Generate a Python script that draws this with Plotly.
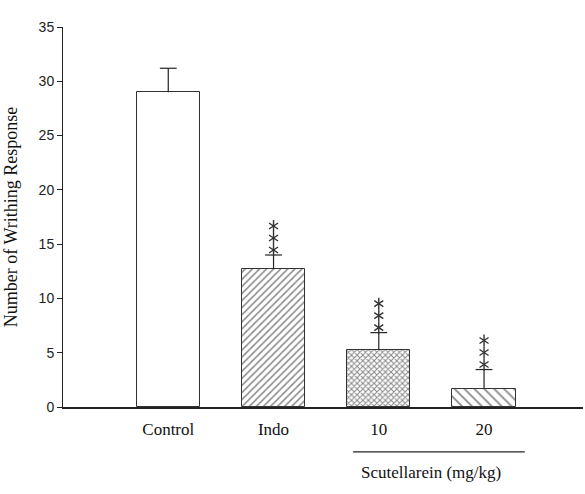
import plotly.graph_objects as go

groups = ["Control", "Indo", "10", "20"]
means = [29.0, 12.7, 5.25, 1.7]
sems = [2.2, 1.3, 1.6, 1.75]
n_stars = [0, 3, 3, 3]
patterns = ["", "/", "x", "\\"]
y_ticks = [0, 5, 10, 15, 20, 25, 30, 35]

xs = list(range(len(groups)))
px_per_unit = (494 - 27 - 87) / 35.0

fig = go.Figure()
fig.add_trace(go.Bar(
    x=xs, y=means, width=0.6,
    marker=dict(color="white", line=dict(color="#333", width=1),
                pattern=dict(shape=patterns, fgcolor="#111", size=[6, 5, 4, 7],
                             solidity=[0.25, 0.3, 0.45, 0.25])),
    showlegend=False,
))
# error bars (upper only)
ex, ey = [], []
for i, (m, s) in enumerate(zip(means, sems)):
    ex += [i, i, None]
    ey += [m, m + s, None]
fig.add_trace(go.Scatter(x=ex, y=ey, mode="lines", line=dict(color="#222", width=1.2),
                         showlegend=False, hoverinfo="skip"))
fig.add_trace(go.Scatter(x=xs, y=[m + s for m, s in zip(means, sems)], mode="markers",
                         marker=dict(symbol="line-ew", size=12, color="#222",
                                     line=dict(color="#222", width=1.2)),
                         showlegend=False, hoverinfo="skip"))
# significance stars drawn as six-armed asterisk markers
sx, sy = [], []
for i, (m, s, n) in enumerate(zip(means, sems, n_stars)):
    for k in range(n):
        sx.append(i)
        sy.append(m + s + (5 + 12 * k) / px_per_unit)
for sym in ["y-up-open", "y-down-open"]:
    fig.add_trace(go.Scatter(x=sx, y=sy, mode="markers",
                             marker=dict(symbol=sym, size=7.5, color="#333",
                                         line=dict(color="#333", width=1.4)),
                             showlegend=False, hoverinfo="skip"))

fig.add_shape(type="line", xref="paper", yref="paper", x0=0.558, x1=0.888, y0=-0.118, y1=-0.118,
              line=dict(color="#222", width=1.2))
fig.add_annotation(x=2.5, y=-0.142, xref="x", yref="paper", text="Scutellarein (mg/kg)",
                   showarrow=False, yanchor="top",
                   font=dict(family="Liberation Serif", size=17, color="#111"))

fig.update_layout(
    width=585, height=494, margin=dict(l=63, r=2, t=27, b=87),
    plot_bgcolor="white", paper_bgcolor="white", bargap=0,
    xaxis=dict(range=[-1.0, 3.94], tickmode="array", tickvals=xs, ticktext=groups,
               showline=True, linecolor="#222", linewidth=1.5, ticks="", showgrid=False,
               zeroline=False, ticklabelstandoff=6,
               tickfont=dict(family="Liberation Serif", size=17, color="#111")),
    yaxis=dict(range=[0, 35], tickvals=y_ticks, showline=True, linecolor="#222", linewidth=1,
               ticks="outside", ticklen=5, tickcolor="#222", showgrid=False, zeroline=False,
               tickfont=dict(family="Liberation Sans", size=14, color="#222"),
               title=dict(text="Number of Writhing Response", standoff=16,
                          font=dict(family="Liberation Serif", size=18, color="#111"))),
)
fig.write_html("out.html")
